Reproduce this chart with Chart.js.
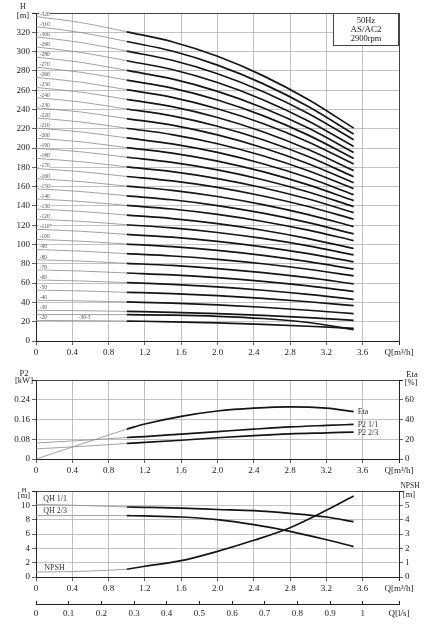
<!DOCTYPE html>
<html><head><meta charset="utf-8">
<script src="https://cdn.jsdelivr.net/npm/chart.js@4.4.0/dist/chart.umd.min.js"></script>
<style>
html,body{margin:0;padding:0;background:#fff;}
#wrap{position:relative;width:442px;height:632px;overflow:hidden;background:#fff;}
canvas{position:absolute;left:0;}
</style></head><body>
<div id="wrap">
<canvas id="c1" width="442" height="362" style="top:0px"></canvas>
<canvas id="c2" width="442" height="118" style="top:362px"></canvas>
<canvas id="c3" width="442" height="118" style="top:480px"></canvas>
<canvas id="c4" width="442" height="36" style="top:596px"></canvas>
</div>
<script>
// ---------- DATA: top chart (H vs Q, one curve per model) ----------
const qThin = [0, 0.5, 1.0];
const qThick = [1.0, 1.5, 2.0, 2.5, 3.0, 3.5];
const curveLabels = ['-20','-30-3','-30','-40','-50','-60','-70','-80','-90','-100','-110*','-120','-130','-140','-150','-160','-170','-180','-190','-200','-210','-220','-230','-240','-250','-260','-270','-280','-290','-300','-310','-320'];
const hQ00 = [21.3,27.4,31.8,42.3,52.8,63.3,73.8,84.3,94.8,105.3,115.8,126.3,136.8,147.3,157.8,168.3,178.8,189.3,199.8,210.3,220.8,231.3,241.8,252.3,262.8,273.3,283.8,294.3,304.8,315.3,325.8,336.3];
const hQ05 = [21.1,27.4,31.4,41.6,51.9,62.2,72.5,82.8,93.1,103.4,113.7,124.0,134.3,144.6,154.9,165.2,175.5,185.8,196.1,206.4,216.7,227.0,237.3,247.6,257.9,268.2,278.5,288.8,299.1,309.4,319.7,330.0];
const hQ10 = [20.7,27.3,30.7,40.5,50.5,60.5,70.5,80.5,90.5,100.5,110.5,120.5,130.5,140.5,150.5,160.5,170.5,180.5,190.5,200.5,210.5,220.5,230.5,240.5,250.5,260.5,270.5,280.5,290.5,300.5,310.5,320.5];
const hQ15 = [19.9,26.8,29.7,39.2,49.1,58.7,68.5,78.3,88.1,97.8,107.6,117.3,126.9,136.8,146.4,156.2,165.9,175.6,185.2,194.8,204.4,214.0,223.7,233.3,242.9,252.6,262.1,271.7,281.4,291.0,300.6,310.2];
const hQ20 = [18.7,25.6,28.3,37.4,47.0,56.1,65.6,75.1,84.7,93.9,103.3,112.5,121.7,131.2,140.4,149.8,159.2,168.4,177.4,186.5,195.5,204.5,213.6,222.6,231.7,240.8,249.8,258.8,267.9,277.1,286.0,295.1];
const hQ25 = [17.2,23.3,26.5,35.0,44.2,52.6,61.8,70.9,80.1,88.7,97.6,106.3,114.8,123.9,132.5,141.4,150.3,158.9,167.2,175.5,183.7,192.0,200.3,208.6,216.9,225.4,233.6,241.8,250.1,258.7,266.8,275.1];
const hQ30 = [15.3,19.2,24.2,31.9,40.7,48.3,57.1,65.6,74.4,82.2,90.5,98.6,106.2,114.9,122.7,131.0,139.4,147.2,154.5,161.8,169.2,176.5,183.8,191.2,198.5,206.3,213.4,220.7,228.1,235.9,243.0,250.3];
const hQ35 = [13.0,11.7,21.4,28.3,36.6,43.1,51.4,59.3,67.6,74.5,82.1,89.3,95.9,104.1,111.0,118.6,126.2,133.1,139.3,145.5,151.7,157.9,164.1,170.3,176.6,183.4,189.3,195.5,201.7,208.6,214.5,220.7];
const hTicks = {min:0, max:340, step:20};
const qTicks = {min:0, max:4.0, step:0.4};

// ---------- DATA: middle chart (P2 [kW], Eta [%]) ----------
const qThinP = [0, 0.4, 0.8, 1.0];
const qThickP = [1.0, 1.2, 1.6, 2.0, 2.4, 2.8, 3.2, 3.5];
const etaThin = [0, 12.1, 24.2, 30.3];
const etaThick = [30.3, 35.4, 43.2, 48.6, 51.5, 52.8, 51.5, 48.0];
const p2FullThin = [0.065, 0.073, 0.082, 0.087];
const p2FullThick = [0.087, 0.091, 0.101, 0.111, 0.121, 0.130, 0.136, 0.140];
const p2TwoThirdThin = [0.041, 0.049, 0.058, 0.063];
const p2TwoThirdThick = [0.063, 0.067, 0.076, 0.086, 0.095, 0.102, 0.106, 0.109];

// ---------- DATA: bottom chart (stage H [m], NPSH [m]) ----------
const qh11Thin = [10.14, 10.02, 9.86, 9.77];
const qh11Thick = [9.77, 9.72, 9.60, 9.42, 9.26, 8.88, 8.37, 7.72];
const qh23Thin = [8.56, 8.57, 8.57, 8.56];
const qh23Thick = [8.56, 8.52, 8.37, 8.00, 7.30, 6.37, 5.20, 4.24];
const npshThin = [0.35, 0.38, 0.47, 0.54];
const npshThick = [0.54, 0.75, 1.14, 1.79, 2.56, 3.44, 4.65, 5.65];

// ---------- STYLE ----------
const SERIF = "'Liberation Serif','Times New Roman','DejaVu Serif',serif";
Chart.defaults.font.family = SERIF;
Chart.defaults.font.size = 9;
Chart.defaults.color = '#222';
Chart.defaults.animation = false;

const GRID = '#a8a8a8', EDGE = '#444';
const thinStyle = {borderColor:'#8a8a8a', borderWidth:0.8, pointRadius:0, fill:false, cubicInterpolationMode:'monotone'};
const thickStyle = {borderColor:'#151515', borderWidth:1.7, pointRadius:0, fill:false, cubicInterpolationMode:'monotone'};
const pts = (xs, ys) => xs.map((x,i)=>({x:x, y:ys[i]}));
const near = (a,b) => Math.abs(a-b) < 1e-6;
const fmtQ = v => near(v,0) ? '0' : (near(v,qTicks.max) ? 'Q[m³/h]' : v.toFixed(1));

function xScale(h){
  return {type:'linear', min:qTicks.min, max:qTicks.max,
    ticks:{stepSize:qTicks.step, autoSkip:false, maxRotation:0, padding:2, callback:fmtQ},
    grid:{color:c=>near(c.tick.value,qTicks.max)?EDGE:GRID, lineWidth:c=>near(c.tick.value,qTicks.max)?1:0.7, tickColor:'#222', tickLength:4},
    border:{color:'#222', width:1},
    afterFit:s=>{s.height=h;}};
}
function yScale(min,max,step,fmt,pos,grid){
  return {type:'linear', position:pos, min:min, max:max,
    ticks:{stepSize:step, autoSkip:false, padding:2, callback:v=>near(v,max)?'':fmt(v)},
    grid:{drawOnChartArea:grid, color:c=>near(c.tick.value,max)?EDGE:GRID, lineWidth:c=>near(c.tick.value,max)?1:0.7, tickColor:'#222', tickLength:4},
    border:{color:'#222', width:1},
    afterFit:s=>{s.width = pos==='left'?36:43;}};
}
function textPlugin(id, fn){ return {id:id, afterDraw(chart){ const ctx=chart.ctx; ctx.save(); fn(chart, ctx); ctx.restore(); }}; }
function txt(ctx, s, x, y, size, align, color){
  ctx.font = size+'px '+SERIF; ctx.fillStyle = color||'#222';
  ctx.textAlign = align||'center'; ctx.textBaseline='middle'; ctx.fillText(s, x, y);
}
const baseOpts = (pad) => ({responsive:false, animation:false, layout:{padding:pad},
  plugins:{legend:{display:false}, tooltip:{enabled:false}}, elements:{line:{tension:0.4}}});

// ---------- TOP CHART ----------
const ds1 = [];
curveLabels.forEach((lab,i)=>{
  ds1.push(Object.assign({data:pts(qThin,[hQ00[i],hQ05[i],hQ10[i]])}, thinStyle));
  ds1.push(Object.assign({data:pts(qThick,[hQ10[i],hQ15[i],hQ20[i],hQ25[i],hQ30[i],hQ35[i]])}, thickStyle));
});
new Chart(document.getElementById('c1'), {
  type:'line', data:{datasets:ds1},
  options:Object.assign(baseOpts({top:13,right:43,left:0,bottom:0}), {
    scales:{x:xScale(21), y:yScale(hTicks.min,hTicks.max,hTicks.step,v=>String(v),'left',true)}}),
  plugins:[textPlugin('t1',(chart,ctx)=>{
    const a=chart.chartArea, xs=chart.scales.x, ys=chart.scales.y;
    txt(ctx,'H',a.left-13,a.top-6,8);
    txt(ctx,'[m]',a.left-13,a.top+3,8.5);
    ctx.font='5.5px '+SERIF;
    curveLabels.forEach((lab,i)=>{
      let qx = 0.04, yv = hQ00[i], off = 2.5;
      if(lab==='-30-3'){ qx = 0.47; yv = hQ05[i]; off = -2.6; }
      const px = xs.getPixelForValue(qx), py = ys.getPixelForValue(yv) - off;
      const w = ctx.measureText(lab).width;
      ctx.fillStyle='#fff'; ctx.fillRect(px-0.5, py-2, w+1, 4);
      txt(ctx, lab, px, py, 5.5, 'left', '#555');
    });
    // info box
    const bw=66, bh=33;
    ctx.fillStyle='#fff'; ctx.fillRect(a.right-bw, a.top, bw, bh);
    ctx.strokeStyle='#444'; ctx.lineWidth=1; ctx.strokeRect(a.right-bw+0.5, a.top+0.5, bw-1, bh-1);
    const cx=a.right-bw/2;
    txt(ctx,'50Hz',cx,a.top+7.5,8.5);
    txt(ctx,'AS/AC2',cx,a.top+16.5,9);
    txt(ctx,'2900rpm',cx,a.top+25.5,8.5);
  })]
});

// ---------- MIDDLE CHART ----------
const ds2 = [
  Object.assign({data:pts(qThinP,etaThin), yAxisID:'y2'}, thinStyle),
  Object.assign({data:pts(qThickP,etaThick), yAxisID:'y2'}, thickStyle),
  Object.assign({data:pts(qThinP,p2FullThin), yAxisID:'y'}, thinStyle),
  Object.assign({data:pts(qThickP,p2FullThick), yAxisID:'y'}, thickStyle),
  Object.assign({data:pts(qThinP,p2TwoThirdThin), yAxisID:'y'}, thinStyle),
  Object.assign({data:pts(qThickP,p2TwoThirdThick), yAxisID:'y'}, thickStyle)
];
new Chart(document.getElementById('c2'), {
  type:'line', data:{datasets:ds2},
  options:Object.assign(baseOpts({top:18,right:0,left:0,bottom:0}), {
    scales:{x:xScale(21),
      y:yScale(0,0.32,0.08,v=>near(v,0)?'0':v.toFixed(2),'left',true),
      y2:yScale(0,80,20,v=>String(v),'right',false)}}),
  plugins:[textPlugin('t2',(chart,ctx)=>{
    const a=chart.chartArea, xs=chart.scales.x, y=chart.scales.y, y2=chart.scales.y2;
    txt(ctx,'P2',a.left-12,a.top-6,8.5);
    txt(ctx,'[kW]',a.left-12,a.top+1,8.5);
    txt(ctx,'Eta',a.right+13,a.top-5,8.5);
    txt(ctx,'[%]',a.right+12,a.top+3,8.5);
    const lx = xs.getPixelForValue(qThickP[qThickP.length-1])+4;
    txt(ctx,'Eta',lx,y2.getPixelForValue(etaThick[etaThick.length-1]),8,'left','#333');
    txt(ctx,'P2 1/1',lx,y.getPixelForValue(p2FullThick[p2FullThick.length-1]),8,'left','#333');
    txt(ctx,'P2 2/3',lx,y.getPixelForValue(p2TwoThirdThick[p2TwoThirdThick.length-1])+1,8,'left','#333');
  })]
});

// ---------- BOTTOM CHART ----------
const ds3 = [
  Object.assign({data:pts(qThinP,qh11Thin), yAxisID:'y'}, thinStyle),
  Object.assign({data:pts(qThickP,qh11Thick), yAxisID:'y'}, thickStyle),
  Object.assign({data:pts(qThinP,qh23Thin), yAxisID:'y'}, thinStyle),
  Object.assign({data:pts(qThickP,qh23Thick), yAxisID:'y'}, thickStyle),
  Object.assign({data:pts(qThinP,npshThin), yAxisID:'y2'}, thinStyle),
  Object.assign({data:pts(qThickP,npshThick), yAxisID:'y2'}, thickStyle)
];
new Chart(document.getElementById('c3'), {
  type:'line', data:{datasets:ds3},
  options:Object.assign(baseOpts({top:11,right:0,left:0,bottom:0}), {
    scales:{x:xScale(21),
      y:yScale(0,12,2,v=>String(v),'left',true),
      y2:yScale(0,6,1,v=>String(v),'right',false)}}),
  plugins:[textPlugin('t3',(chart,ctx)=>{
    const a=chart.chartArea, xs=chart.scales.x, y=chart.scales.y, y2=chart.scales.y2;
    txt(ctx,'H',a.left-12,a.top-1,6.5);
    txt(ctx,'[m]',a.left-12,a.top+5,8.5);
    txt(ctx,'NPSH',a.right+11,a.top-5,7.5);
    txt(ctx,'[m]',a.right+10,a.top+4,8.5);
    const lx = xs.getPixelForValue(0.08);
    txt(ctx,'QH 1/1',lx,y.getPixelForValue(qh11Thin[0])-5,8,'left','#333');
    txt(ctx,'QH 2/3',lx,y.getPixelForValue(qh23Thin[0])-4.5,8,'left','#333');
    txt(ctx,'NPSH',lx+1,y2.getPixelForValue(npshThin[0])-4.5,8,'left','#333');
  })]
});

// ---------- SECONDARY Q AXIS [l/s] ----------
const lsMax = qTicks.max/3.6;
new Chart(document.getElementById('c4'), {
  type:'line', data:{datasets:[]},
  options:Object.assign(baseOpts({top:5,right:43,left:36,bottom:0}), {
    scales:{
      x:{type:'linear', min:0, max:lsMax,
        ticks:{stepSize:0.1, autoSkip:false, maxRotation:0, padding:4,
          callback:v=>near(v,lsMax)?'Q[l/s]':(near(v,0)?'0':(near(v,1)?'1':v.toFixed(1)))},
        grid:{drawOnChartArea:true, drawTicks:false, color:'#222', lineWidth:1},
        border:{color:'#222', width:1},
        afterFit:s=>{s.height=28;}},
      y:{display:false, min:0, max:1}}})
});
</script>
</body></html>
